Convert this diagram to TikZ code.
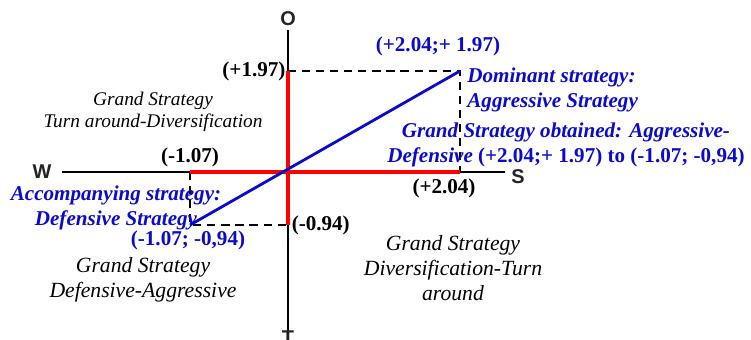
\documentclass[tikz,border=0pt]{standalone}
\usepackage{fontspec}
\setmainfont{Liberation Serif}
\newfontfamily\axisfont{Liberation Sans}
\usetikzlibrary{positioning}
\definecolor{StratBlue}{RGB}{10,10,205}
\definecolor{AxisGray}{RGB}{35,35,35}

\begin{document}
\begin{tikzpicture}[x=0.03cm, y=-0.03cm,
    axis/.style={black, line width=2.4pt},
    score/.style={red, line width=3.2pt},
    guide/.style={black, line width=1.5pt, dash pattern=on 7pt off 5pt},
    vector/.style={StratBlue, line width=2.4pt},
    axislabel/.style={font=\axisfont\bfseries\fontsize{17}{19}\selectfont, text=AxisGray, inner sep=1pt},
    value/.style={font=\bfseries\fontsize{18}{21}\selectfont, inner sep=1pt},
    bluetext/.style={font=\bfseries\itshape\fontsize{18}{21.5}\selectfont, text=StratBlue, inner sep=1pt},
    quadrant/.style={font=\itshape\fontsize{18.5}{21.5}\selectfont, align=center, inner sep=1pt}]
    \useasboundingbox (0,0) rectangle (751,340);
    % Axis end points and scores
    \coordinate (Otop) at (288,30);
    \coordinate (Tbot) at (288,334);
    \coordinate (Wend) at (62,172);
    \coordinate (Send) at (505,172);
    \coordinate (ptO) at (288,71);
    \coordinate (ptT) at (288,225);
    \coordinate (ptW) at (190,172);
    \coordinate (ptS) at (460,172);
    \coordinate (dom) at (460,71);
    \coordinate (acc) at (190,225);
    % Axes
    \draw [axis] (Otop) -- (Tbot);
    \draw [axis] (Wend) -- (Send);
    % Dashed guides
    \draw [guide] (ptO) -- (dom) -- (ptS);
    \draw [guide] (ptW) -- (acc) -- (ptT);
    % Scores on the axes
    \draw [score] (ptO) -- (ptT);
    \draw [score] (ptW) -- (ptS);
    % Strategy vector
    \draw [vector] (acc) -- (dom);
    % Axis letters
    \node [axislabel] (O) at (288,19) {O};
    \node [axislabel] (T) at (288,338) {T};
    \node [axislabel] (W) at (42,172) {W};
    \node [axislabel] (S) at (518,177) {S};
    % Values
    \node [value, left=1pt of ptO] (vO) {(+1.97)};
    \node [value, right=2pt of ptT] (vT) {(-0.94)};
    \node [value] (vW) at (190,157) {(-1.07)};
    \node [value] (vS) at (444,188) {(+2.04)};
    \node [value, text=StratBlue] (vdom) at (438,46) {(+2.04;+ 1.97)};
    \node [value, text=StratBlue] (vacc) at (188,240) {(-1.07; -0,94)};
    % Strategies
    \node [bluetext, align=left, anchor=west] (domtext) at (466,90) {Dominant strategy:\\Aggressive Strategy};
    \node [bluetext, align=center] (acctext) at (116,208) {Accompanying strategy:\\Defensive Strategy};
    \node [bluetext, align=center] (grand) at (566,145) {Grand Strategy obtained: Aggressive-\\Defensive {\upshape(+2.04;+ 1.97) to (-1.07; -0,94)}};
    % Quadrants
    \node [quadrant, font=\itshape\fontsize{16.5}{18.5}\selectfont] (qNW) at (153,112) {Grand Strategy\\Turn around-Diversification};
    \node [quadrant] (qSW) at (143,280) {Grand Strategy\\Defensive-Aggressive};
    \node [quadrant] (qSE) at (453,268) {Grand Strategy\\Diversification-Turn\\around};
\end{tikzpicture}
\end{document}
